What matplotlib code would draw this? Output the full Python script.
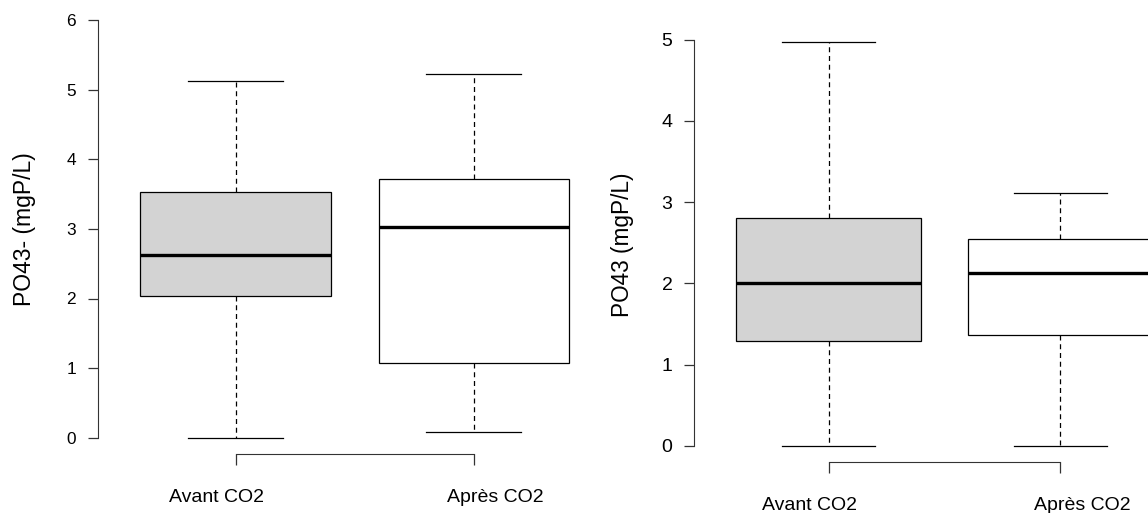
import matplotlib
matplotlib.use("Agg")
import matplotlib.pyplot as plt
import matplotlib.transforms as mtransforms

plt.rcParams["font.family"] = ["Liberation Sans", "DejaVu Sans"]

groups = ["Avant CO2", "Après CO2"]
box_colors = ["#d3d3d3", "white"]

# left panel: PO43- (mgP/L)
left_whislo = [0.0, 0.08]
left_q1 = [2.03, 1.07]
left_med = [2.62, 3.03]
left_q3 = [3.53, 3.72]
left_whishi = [5.13, 5.22]
left_ticks = [0, 1, 2, 3, 4, 5, 6]

# right panel: PO43 (mgP/L)
right_whislo = [0.0, 0.0]
right_q1 = [1.29, 1.36]
right_med = [2.00, 2.13]
right_q3 = [2.81, 2.55]
right_whishi = [4.97, 3.11]
right_ticks = [0, 1, 2, 3, 4, 5]

W, H = 1148, 513
fig = plt.figure(figsize=(W / 100, H / 100), dpi=100)


def make_stats(whislo, q1, med, q3, whishi):
    stats = []
    for i in range(len(med)):
        stats.append({"whislo": whislo[i], "q1": q1[i], "med": med[i],
                      "q3": q3[i], "whishi": whishi[i], "fliers": []})
    return stats


def draw_panel(rect, stats, ticks, xlim, ylim, bracket_y, ylabel, ylabel_xy,
               tick_size, label_size, ylabel_size, label_shift, label_pad):
    ax = fig.add_axes(rect)
    bp = ax.bxp(stats, positions=[1, 2], widths=0.8, capwidths=0.4,
                showfliers=False, patch_artist=True,
                boxprops=dict(edgecolor="black", linewidth=0.9),
                medianprops=dict(color="black", linewidth=2.4, solid_capstyle="butt"),
                whiskerprops=dict(color="black", linewidth=0.9, linestyle=(0, (4, 3))),
                capprops=dict(color="black", linewidth=0.9))
    for patch, c in zip(bp["boxes"], box_colors):
        patch.set_facecolor(c)

    ax.set_xlim(*xlim)
    ax.set_ylim(*ylim)
    for s in ["top", "right"]:
        ax.spines[s].set_visible(False)
    ax.spines["left"].set_bounds(ticks[0], ticks[-1])
    ax.spines["left"].set_color("#333333")
    ax.spines["bottom"].set_position(("data", bracket_y))
    ax.spines["bottom"].set_bounds(1, 2)
    ax.spines["bottom"].set_color("#333333")

    ax.set_yticks(ticks)
    ax.tick_params(axis="y", length=7.5, width=0.9, color="#333333",
                   labelsize=tick_size, pad=8)
    ax.set_xticks([1, 2])
    ax.set_xticklabels(groups)
    ax.tick_params(axis="x", length=7.8, width=0.9, color="#333333",
                   labelsize=label_size, pad=label_pad)
    for lab, dx in zip(ax.get_xticklabels(), label_shift):
        off = mtransforms.ScaledTranslation(dx / 100, 0, fig.dpi_scale_trans)
        lab.set_transform(lab.get_transform() + off)

    fig.text(ylabel_xy[0] / W, 1 - ylabel_xy[1] / H, ylabel, rotation=90,
             ha="center", va="center", fontsize=ylabel_size)
    return ax


# left panel: spine at x=97.7px, boxes at 235.7 / 473.8 px
sp = 238.1
left_rect = [97.7 / W, (H - 470) / H, (580 - 97.7) / W, 460 / H]
draw_panel(left_rect, make_stats(left_whislo, left_q1, left_med, left_q3, left_whishi),
           left_ticks, (1 - (235.7 - 97.7) / sp, 1 + (580 - 235.7) / sp),
           ((437.7 - 470) / 69.6, (437.7 - 10) / 69.6), (437.7 - 454) / 69.6,
           "PO43- (mgP/L)", (25, 229), 12.4, 14, 16.5, (-19, 22), 17.6)

# right panel: spine at x=694px, boxes at 828.5 / 1060.3 px
sp2 = 231.8
right_rect = [694 / W, (H - 490) / H, (W - 694) / W, 480 / H]
draw_panel(right_rect, make_stats(right_whislo, right_q1, right_med, right_q3, right_whishi),
           right_ticks, (1 - (828.5 - 694) / sp2, 1 + (W - 828.5) / sp2),
           ((446 - 490) / 81.3, (446 - 10) / 81.3), (446 - 462.3) / 81.3,
           "PO43 (mgP/L)", (622.5, 244.5), 14, 14, 16.3, (-18.5, 21.7), 17)

fig.savefig("out.png", dpi=100)
